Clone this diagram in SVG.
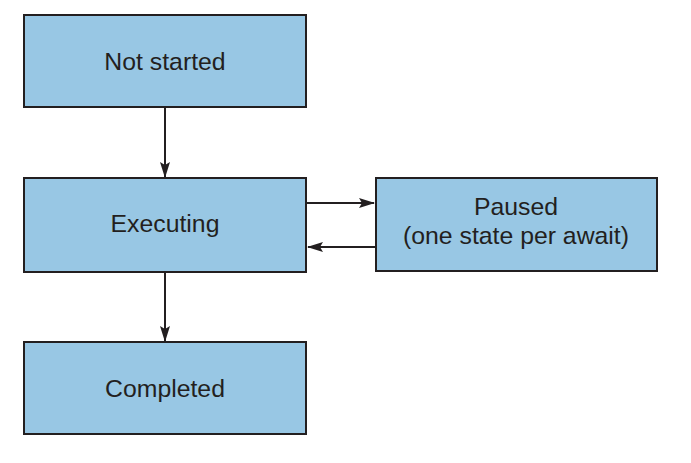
<svg xmlns="http://www.w3.org/2000/svg" width="691" height="463" viewBox="0 0 691 463">
<style>
.box{fill:#98c7e4;stroke:#231f20;stroke-width:2}
.lbl{font-family:"Liberation Sans",Arial,Helvetica,sans-serif;font-size:24.8px;fill:#231f20;text-anchor:middle}
.conn{stroke:#231f20;stroke-width:2;fill:none}
</style>
<defs>
<marker id="ah" markerWidth="16" markerHeight="10" refX="15" refY="5" orient="auto" markerUnits="userSpaceOnUse">
<path d="M0,0 L16,5 L0,10 L3,5 Z" fill="#231f20"/>
</marker>
</defs>
<rect width="691" height="463" fill="#fff"/>
<g id="not-started"><rect class="box" x="24" y="15" width="282" height="92"/><text class="lbl" x="165" y="70">Not started</text></g>
<g id="executing"><rect class="box" x="24" y="178" width="282" height="94"/><text class="lbl" x="165" y="232">Executing</text></g>
<g id="paused"><rect class="box" x="376" y="178" width="281" height="93"/><text class="lbl" x="516" y="215">Paused</text><text class="lbl" x="516" y="244">(one state per await)</text></g>
<g id="completed"><rect class="box" x="24" y="342" width="282" height="92"/><text class="lbl" x="165" y="397">Completed</text></g>
<g id="connectors">
<line class="conn" x1="165" y1="108" x2="165" y2="177" marker-end="url(#ah)"/>
<line class="conn" x1="307" y1="203" x2="374" y2="203" marker-end="url(#ah)"/>
<line class="conn" x1="375" y1="247" x2="308" y2="247" marker-end="url(#ah)"/>
<line class="conn" x1="165" y1="273" x2="165" y2="341" marker-end="url(#ah)"/>
</g>
</svg>
